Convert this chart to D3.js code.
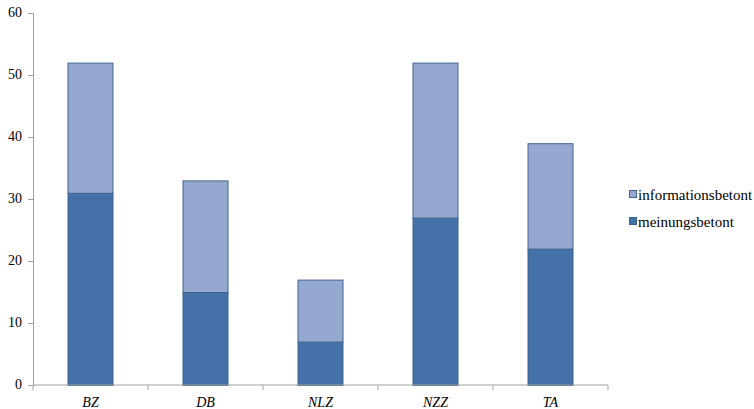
<!DOCTYPE html>
<html>
<head>
<meta charset="utf-8">
<title>meinungsbetont / informationsbetont</title>
<script src="https://cdn.jsdelivr.net/npm/d3@7"></script>
<style>
  body { margin: 0; background: #fff; }
</style>
</head>
<body>
<div class="chart"></div>
<script>
var categories = ["BZ", "DB", "NLZ", "NZZ", "TA"];
var seriesNames = ["meinungsbetont", "informationsbetont"];
var meinungsbetont = [31, 15, 7, 27, 22];
var informationsbetont = [21, 18, 10, 25, 17];
var yTicks = [0, 10, 20, 30, 40, 50, 60];

var colors = { meinungsbetont: "#4472a8", informationsbetont: "#95a9d0" };
var strokes = { meinungsbetont: "#3a6391", informationsbetont: "#41648f" };
var serif = "'Liberation Serif'";

var width = 754, height = 409,
    margin = {top: 13, right: 146, bottom: 24, left: 33};

var svg = d3.select(".chart").append("svg")
    .attr("width", width)
    .attr("height", height);

var x = d3.scaleBand()
    .domain(categories)
    .range([margin.left, width - margin.right])
    .paddingInner(0.6)
    .paddingOuter(0.3);

var y = d3.scaleLinear()
    .domain([0, 60])
    .range([height - margin.bottom, margin.top]);

var table = categories.map(function(c, i) {
  return { cat: c, meinungsbetont: meinungsbetont[i], informationsbetont: informationsbetont[i] };
});

var stack = d3.stack().keys(seriesNames)(table);

// y axis (ticks and domain drawn by d3, labels added as plain text)
var yAxis = svg.append("g")
    .attr("transform", "translate(" + margin.left + ",0)")
    .call(d3.axisLeft(y).tickValues(yTicks).tickSize(5).tickFormat(""));
yAxis.select(".domain").attr("stroke", "#a0a0a0");
yAxis.selectAll(".tick line").attr("stroke", "#a0a0a0");

svg.selectAll(".ylbl").data(yTicks).enter().append("text")
    .attr("x", margin.left - 11)
    .attr("y", function(d) { return y(d); })
    .attr("dy", "0.32em")
    .attr("text-anchor", "end")
    .attr("font-size", 14)
    .style("font-family", serif)
    .text(function(d) { return d; });

// bars
svg.append("g").selectAll("g")
  .data(stack)
  .enter().append("g")
    .attr("fill", function(d) { return colors[d.key]; })
    .attr("stroke", function(d) { return strokes[d.key]; })
  .selectAll("rect")
  .data(function(d) { return d; })
  .enter().append("rect")
    .attr("x", function(d) { return x(d.data.cat) + 0.5; })
    .attr("y", function(d) { return y(d[1]) + 0.5; })
    .attr("width", x.bandwidth() - 1)
    .attr("height", function(d) { return y(d[0]) - y(d[1]); });

// x axis
var step = x.step();
var xAxis = svg.append("g")
    .attr("transform", "translate(0," + y(0) + ")");
xAxis.append("line")
    .attr("x1", margin.left).attr("x2", width - margin.right)
    .attr("stroke", "#a0a0a0");
var bounds = d3.range(categories.length + 1).map(function(i) {
  return margin.left + i * step;
});
xAxis.selectAll(".tk").data(bounds).enter().append("line")
    .attr("x1", function(d) { return d; }).attr("x2", function(d) { return d; })
    .attr("y1", 0).attr("y2", 5)
    .attr("stroke", "#a0a0a0");
svg.selectAll(".xlbl").data(categories).enter().append("text")
    .attr("x", function(d) { return x(d) + x.bandwidth() / 2; })
    .attr("y", y(0) + 22)
    .attr("text-anchor", "middle")
    .attr("font-size", 14)
    .attr("font-style", "italic")
    .style("font-family", serif)
    .text(function(d) { return d; });

// legend
var legendItems = seriesNames.slice().reverse();
var legend = svg.append("g").attr("transform", "translate(629,195)");
var li = legend.selectAll("g").data(legendItems).enter().append("g")
    .attr("transform", function(d, i) { return "translate(0," + (i * 27) + ")"; });
li.append("rect")
    .attr("x", 0.5).attr("y", -4.5)
    .attr("width", 7).attr("height", 7)
    .attr("fill", function(d) { return colors[d]; })
    .attr("stroke", function(d) { return strokes[d]; });
li.append("text")
    .attr("x", 9).attr("y", 4.5)
    .attr("font-size", 15)
    .style("font-family", serif)
    .text(function(d) { return d; });
</script>
</body>
</html>
